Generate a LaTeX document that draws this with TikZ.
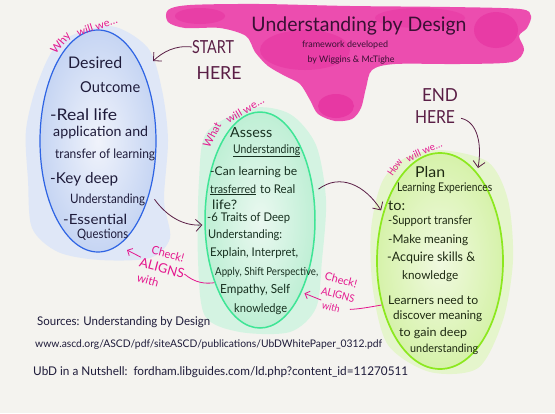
\documentclass[tikz,border=0pt]{standalone}
\usepackage{fontspec}
\setmainfont{Lato}
\usepackage{graphicx}
\usetikzlibrary{shapes.geometric,arrows.meta}
\newcommand\fitw[2]{\resizebox{#1pt}{\height}{#2}}
\newcommand\fsz[1]{\fontsize{#1}{#1}\selectfont}
\definecolor{bg}{HTML}{F4F3EF}
\definecolor{ink}{HTML}{1E1B3A}
\definecolor{inkg}{HTML}{173020}
\definecolor{inkp}{HTML}{1E2A12}
\definecolor{plum}{HTML}{5A1E45}
\definecolor{ttl}{HTML}{3A1034}
\definecolor{pinkt}{HTML}{E4168E}
\definecolor{blob}{HTML}{EC4DAF}
\definecolor{blobd}{HTML}{E0128F}
\definecolor{bline}{HTML}{2E64E4}
\definecolor{bfill}{HTML}{C6D5F3}
\definecolor{bfill2}{HTML}{F0F3FB}
\definecolor{bhalo}{HTML}{DFE7F7}
\definecolor{gline}{HTML}{3FE596}
\definecolor{gfill}{HTML}{BFEFD5}
\definecolor{gfill2}{HTML}{EAF8F0}
\definecolor{ghalo}{HTML}{D4F3E2}
\definecolor{pline}{HTML}{8CE81E}
\definecolor{pfill}{HTML}{D6F2AA}
\definecolor{pfill2}{HTML}{F0F9E0}
\definecolor{phalo}{HTML}{E5F5CC}
\tikzset{
 ell/.style={ellipse, inner sep=0pt},
 tb/.style={anchor=west, inner sep=0pt, text=ink},
 tg/.style={anchor=west, inner sep=0pt, text=inkg},
 tp/.style={anchor=west, inner sep=0pt, text=inkp},
 pinktxt/.style={inner sep=0pt, text=pinkt},
 plumtxt/.style={inner sep=0pt, text=plum, font=\fsz{18}},
 src/.style={anchor=west, inner sep=0pt, text=ink},
 plumarrow/.style={draw=plum, line width=0.8pt, -{Straight Barb[length=6pt,width=12pt]}},
 pinkarrow/.style={draw=pinkt, line width=0.8pt, -{Straight Barb[length=4pt,width=8pt]}},
 pinkline/.style={draw=pinkt, line width=0.8pt},
}
\begin{document}
\begin{tikzpicture}[x=1pt,y=-1pt]
\useasboundingbox (0,0) rectangle (555,413);
\fill[bg] (0,0) rectangle (555,413);
% pink title blob
\fill[blob] plot[smooth cycle, tension=0.5] coordinates {(168,10) (190,5) (260,4) (350,6) (450,7) (520,9) (531,16) (527,28) (519,36) (524,50) (512,62) (460,64) (395,64) (372,70) (366,88) (361,108) (352,119) (335,121) (318,114) (310,100) (300,84) (285,76) (268,66) (255,52) (246,36) (220,28) (185,28) (168,22)};
\fill[blobd, opacity=.35] (336,106) ellipse (18 and 12);
\fill[blobd, opacity=.3] (496,30) ellipse (22 and 18);
\fill[blobd, opacity=.25] (305,50) ellipse (45 and 20);
\fill[blobd, opacity=.2] (420,18) ellipse (45 and 10);
\fill[blobd, opacity=.25] (200,16) ellipse (25 and 8);
% halos
\fill[bhalo] plot[smooth cycle] coordinates {(60,42) (110,26) (148,48) (162,90) (168,140) (164,200) (170,238) (150,258) (100,260) (58,252) (32,228) (28,180) (26,130) (38,82)};
\fill[ghalo] plot[smooth cycle] coordinates {(252,108) (290,114) (316,145) (326,200) (322,260) (316,308) (290,332) (240,332) (205,316) (198,260) (199,180) (207,132)};
\fill[phalo] plot[smooth cycle] coordinates {(440,150) (488,162) (508,200) (513,260) (503,320) (478,368) (430,372) (388,345) (373,290) (371,230) (382,182) (405,158)};
% ellipses
\node[ell, draw=bline, line width=1.2pt, inner color=bfill2, outer color=bfill, minimum width=116pt, minimum height=222pt] (blue) at (98,141) {};
\node[ell, draw=gline, line width=1.5pt, inner color=gfill2, outer color=gfill, minimum width=110pt, minimum height=216pt] (green) at (260,220) {};
\node[ell, draw=pline, line width=1.7pt, inner color=pfill2, outer color=pfill, minimum width=126pt, minimum height=216pt] (plan) at (440,261) {};
% title
\node[inner sep=0pt, text=ttl, font=\fsz{20}] (title) at (359,26) {\fitw{215}{Understanding by Design}};
\node[inner sep=0pt, text=ttl, font=\fsz{9}] (sub1) at (345,45) {\fitw{86}{framework developed}};
\node[inner sep=0pt, text=ttl, font=\fsz{9}] (sub2) at (351,60) {\fitw{87}{by Wiggins \& McTighe}};
% start / end
\node[plumtxt] (start1) at (213,47) {\fitw{42}{START}};
\node[plumtxt] (start2) at (219,73) {\fitw{45}{HERE}};
\node[plumtxt] (end1) at (440,95) {\fitw{36}{END}};
\node[plumtxt] (end2) at (435,117) {\fitw{40}{HERE}};
% pink headers
\node[pinktxt, font=\fsz{11}, rotate=50] (why1) at (61,43) {\fitw{24}{Why}};
\node[pinktxt, font=\fsz{10.5}, rotate=18] (why2) at (97,26) {\fitw{42}{will we\dots}};
\node[pinktxt, font=\fsz{11}, rotate=62] (what1) at (212,135) {\fitw{26}{What}};
\node[pinktxt, font=\fsz{10.5}, rotate=30] (what2) at (245,110) {\fitw{42}{will we\dots}};
\node[pinktxt, font=\fsz{10}, rotate=55] (how1) at (395,167) {\fitw{18}{How}};
\node[pinktxt, font=\fsz{10}, rotate=24] (how2) at (424,151) {\fitw{38}{will we\dots}};
% blue text
\node[tb, font=\fsz{16}] (b1) at (68,63) {\fitw{54}{Desired}};
\node[tb, font=\fsz{15}] (b2) at (80,87) {\fitw{60}{Outcome}};
\node[tb, font=\fsz{16}] (b3) at (50,115) {\fitw{67}{-Real life}};
\node[tb, font=\fsz{14}] (b4) at (53,133) {\fitw{95}{application and}};
\node[tb, font=\fsz{13}] (b5) at (55,155) {\fitw{100}{transfer of learning}};
\node[tb, font=\fsz{15}] (b6) at (50,179) {\fitw{68}{-Key deep}};
\node[tb, font=\fsz{13}] (b7) at (70,200) {\fitw{75}{Understanding}};
\node[tb, font=\fsz{14}] (b8) at (63,219) {\fitw{64}{-Essential}};
\node[tb, font=\fsz{13}] (b9) at (77,235) {\fitw{51}{Questions}};
% green text
\node[tg, font=\fsz{14}] (g1) at (230,133) {\fitw{42}{Assess}};
\node[tg, font=\fsz{12}] (g2) at (233,150) {\fitw{67}{Understanding}};
\draw[inkg, line width=0.6pt] ([yshift=-1pt]g2.south west) -- ([yshift=-1pt]g2.south east);
\node[tg, font=\fsz{12}] (g3) at (210,172) {\fitw{87}{-Can learning be}};
\node[tg, font=\fsz{11.5}] (g4a) at (210,189) {\fitw{46}{trasferred}};
\draw[inkg, line width=0.6pt] ([yshift=-1pt]g4a.south west) -- ([yshift=-1pt]g4a.south east);
\node[tg, font=\fsz{12}] (g4b) at (260,189) {\fitw{35}{to Real}};
\node[tg, font=\fsz{13}] (g5) at (212,205) {\fitw{25}{life?}};
\node[tg, font=\fsz{12}] (g6) at (207,218) {\fitw{83}{-6 Traits of Deep}};
\node[tg, font=\fsz{12}] (g7) at (208,235) {\fitw{74}{Understanding:}};
\node[tg, font=\fsz{12}] (g8) at (210,253) {\fitw{88}{Explain, Interpret,}};
\node[tg, font=\fsz{11}] (g9) at (215,272) {\fitw{103}{Apply, Shift Perspective,}};
\node[tg, font=\fsz{12.5}] (g10) at (220,290) {\fitw{70}{Empathy, Self}};
\node[tg, font=\fsz{12}] (g11) at (234,309) {\fitw{53}{knowledge}};
% plan text
\node[tp, font=\fsz{15}] (p1) at (415,172) {\fitw{30}{Plan}};
\node[tp, font=\fsz{12}] (p2) at (397,188) {\fitw{95}{Learning Experiences}};
\node[tp, font=\fsz{14}] (p3) at (388,206) {\fitw{17}{to:}};
\node[tp, font=\fsz{12}] (p4) at (388,221) {\fitw{84}{-Support transfer}};
\node[tp, font=\fsz{12}] (p5) at (388,240) {\fitw{80}{-Make meaning}};
\node[tp, font=\fsz{13}] (p6) at (387,258) {\fitw{88}{-Acquire skills \&}};
\node[tp, font=\fsz{12}] (p7) at (402,276) {\fitw{56}{knowledge}};
\node[tp, font=\fsz{12}] (p8) at (388,300) {\fitw{90}{Learners need to}};
\node[tp, font=\fsz{12}] (p9) at (393,316) {\fitw{89}{discover meaning}};
\node[tp, font=\fsz{12}] (p10) at (399,333) {\fitw{68}{to gain deep}};
\node[tp, font=\fsz{11.5}] (p11) at (410,349) {\fitw{68}{understanding}};
% check labels
\node[pinktxt, font=\fsz{11.5}, rotate=-15] (c1a) at (168,254) {\fitw{33}{Check!}};
\node[pinktxt, font=\fsz{13}, rotate=-15] (c1b) at (162,268) {\fitw{46}{ALIGNS}};
\node[pinktxt, font=\fsz{11.5}, rotate=-15] (c1c) at (148,280) {\fitw{22}{with}};
\node[pinktxt, font=\fsz{11}, rotate=-15] (c2a) at (341,280) {\fitw{33}{Check!}};
\node[pinktxt, font=\fsz{10.5}, rotate=-15] (c2b) at (338,295) {\fitw{34}{ALIGNS}};
\node[pinktxt, font=\fsz{10}, rotate=-15] (c2c) at (331,307) {\fitw{18}{with}};
% sources
\node[src, font=\fsz{12}] (s1) at (37,322) {\fitw{173}{Sources: Understanding by Design}};
\node[src, font=\fsz{10.5}] (s2) at (35,345) {\fitw{347}{www.ascd.org/ASCD/pdf/siteASCD/publications/UbDWhitePaper\_0312.pdf}};
\node[src, font=\fsz{12}] (s3) at (33,372) {\fitw{375}{UbD in a Nutshell:\ \ fordham.libguides.com/ld.php?content\_id=11270511}};
% free ends
\coordinate (startTip) at (153,61);
\coordinate (endTip) at (478,168);
\coordinate (c1tip) at (127,250);
% plum arrows
\draw[plumarrow] (start1.west) .. controls (175,45) and (163,52) .. (startTip);
\draw[plumarrow, shorten <=6pt] (end2.east) .. controls (478,122) and (482,145) .. (endTip);
\draw[plumarrow, shorten >=2pt] ([shift={(5pt,-5pt)}]blue.-46) .. controls (168,218) and (185,226) .. (green.185);
\draw[plumarrow, shorten >=3pt] ([xshift=5pt]green.30) .. controls (340,173) and (365,185) .. (plan.140);
% pink connectors
\draw[pinkarrow] (c1b.north west) -- (c1tip);
\draw[pinkline] (c1b.east) .. controls (195,283) and (205,284) .. (green.234);
\draw[pinkarrow, shorten <=2pt, shorten >=3pt] (c2c.north west) -- (green.-60);
\draw[pinkline] ([xshift=10pt]c2c.east) .. controls (360,309) and (370,307) .. (plan.217);
\end{tikzpicture}
\end{document}
